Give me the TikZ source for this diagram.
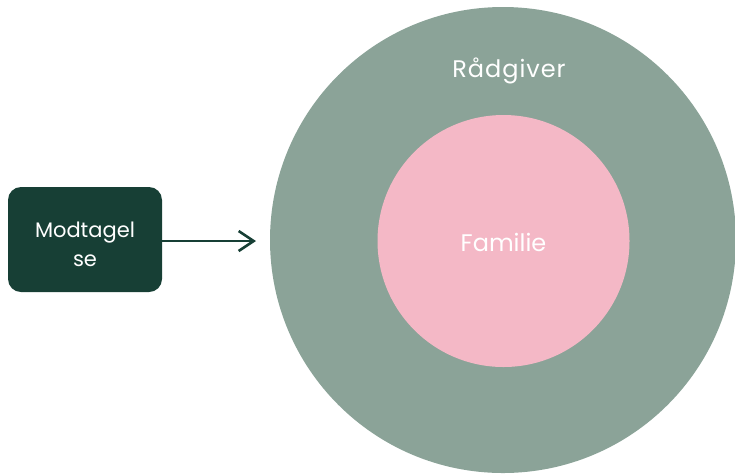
\documentclass[tikz,border=0pt]{standalone}
\usepackage{fontspec}
\setmainfont{Poppins}
\usetikzlibrary{arrows.meta}
\definecolor{sage}{HTML}{8BA398}
\definecolor{blush}{HTML}{F4B8C6}
\definecolor{pine}{HTML}{173F35}
\tikzset{
  lbl/.style={text=white, inner sep=0pt, anchor=base},
  box/.style={fill=pine, rounded corners=13pt, inner sep=0pt},
  link/.style={draw=pine, line width=2.6pt, -{Straight Barb[length=15pt, width=20pt, line width=2.6pt]}}
}
\begin{document}
\begin{tikzpicture}[x=1pt, y=-1pt]
  \useasboundingbox (0,0) rectangle (735,475);
  % outer and inner circles
  \node[circle, fill=sage, minimum size=466pt, inner sep=0pt] (outer) at (503,240) {};
  \node[circle, fill=blush, minimum size=252pt, inner sep=0pt] (inner) at (503.5,241) {};
  \node[lbl, font=\fontsize{24}{28}\selectfont\addfontfeature{LetterSpace=4}] (radgiver) at (509,77) {Rådgiver};
  \node[lbl, font=\fontsize{24}{28}\selectfont] (familie) at (503.5,251) {Familie};
  % intake box
  \node[box, minimum width=154pt, minimum height=105pt] (intake) at (85,239.5) {};
  \node[lbl, font=\fontsize{21}{25}\selectfont] (l1) at (85,237) {Modtagel};
  \node[lbl, font=\fontsize{21}{25}\selectfont] (l2) at (85,266) {se};
  \coordinate (tip) at (256,241);
  \draw[link] (intake.east |- tip) -- (tip);
\end{tikzpicture}
\end{document}
